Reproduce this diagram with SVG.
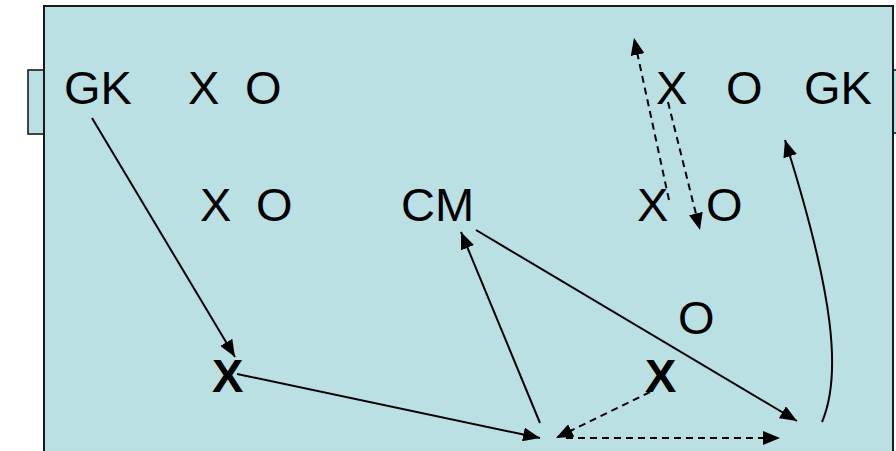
<svg xmlns="http://www.w3.org/2000/svg" width="896" height="451" viewBox="0 0 896 451">
<defs>
<style>
.pitch{fill:#bae0e3;stroke:#1a1a1a;stroke-width:2}
.goal{fill:#bae0e3;stroke:#1a1a1a;stroke-width:1.6}
.t{font-family:"Liberation Sans",Arial,sans-serif;font-size:47px;fill:#000}
.b{font-weight:bold}
.ln{fill:none;stroke:#000;stroke-width:2}
.dash{stroke-dasharray:7 5}
</style>
<marker id="ah" markerUnits="userSpaceOnUse" markerWidth="18" markerHeight="14" refX="17" refY="7" orient="auto">
<path d="M0,0 L17,7 L0,14 Z" fill="#000"/>
</marker>
</defs>
<rect width="896" height="451" fill="#ffffff"/>
<rect class="goal" x="28" y="70" width="16" height="64"/>
<rect class="goal" x="893" y="70" width="10" height="63"/>
<rect class="pitch" x="44" y="6" width="849" height="460"/>

<g id="gk-left"><text class="t" x="64" y="104">GK</text></g>
<g id="x1"><text class="t" x="188" y="104">X</text></g>
<g id="o1"><text class="t" x="245" y="104">O</text></g>
<g id="x2"><text class="t" x="200" y="221">X</text></g>
<g id="o2"><text class="t" x="256" y="221">O</text></g>
<g id="cm"><text class="t" x="401" y="221">CM</text></g>
<g id="x3"><text class="t" x="637" y="221">X</text></g>
<g id="o3"><text class="t" x="706" y="221">O</text></g>
<g id="x4"><text class="t" x="656" y="104">X</text></g>
<g id="o4"><text class="t" x="726" y="104">O</text></g>
<g id="gk-right"><text class="t" x="804" y="104">GK</text></g>
<g id="o5"><text class="t" x="678" y="334">O</text></g>
<g id="xb1"><text class="t b" x="212" y="392">X</text></g>
<g id="xb2"><text class="t b" x="645" y="392">X</text></g>

<g id="connectors">
<line class="ln" x1="92" y1="118" x2="235" y2="357" marker-end="url(#ah)"/>
<line class="ln" x1="237" y1="374" x2="540" y2="438" marker-end="url(#ah)"/>
<line class="ln" x1="540" y1="423" x2="461" y2="232" marker-end="url(#ah)"/>
<line class="ln" x1="476" y1="230" x2="797" y2="421" marker-end="url(#ah)"/>
<path class="ln" d="M822,422 C842,375 834,295 785,140" marker-end="url(#ah)"/>
<line class="ln dash" x1="650" y1="392" x2="556" y2="438" marker-end="url(#ah)"/>
<line class="ln dash" x1="566" y1="438" x2="780" y2="438" marker-end="url(#ah)"/>
<line class="ln dash" x1="669" y1="200" x2="634" y2="38" marker-end="url(#ah)"/>
<line class="ln dash" x1="668" y1="102" x2="700" y2="230" marker-end="url(#ah)"/>
</g>
</svg>
